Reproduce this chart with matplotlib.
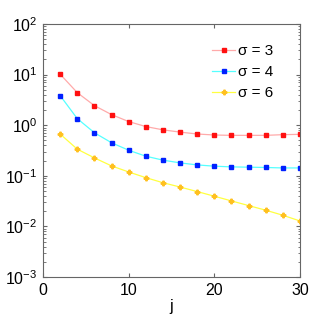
import matplotlib
matplotlib.use("Agg")
import matplotlib.pyplot as plt
from matplotlib.ticker import LogLocator, FixedLocator, NullFormatter

plt.rcParams['font.family'] = ['Liberation Sans', 'DejaVu Sans']
plt.rcParams['mathtext.fontset'] = 'custom'
plt.rcParams['mathtext.rm'] = 'Liberation Sans'
plt.rcParams['mathtext.it'] = 'Liberation Sans'

j = [2, 4, 6, 8, 10, 12, 14, 16, 18, 20, 22, 24, 26, 28, 30]
sigma3 = [10.2, 4.4, 2.44, 1.62, 1.18, 0.94, 0.81, 0.73, 0.67, 0.64, 0.63, 0.63, 0.63, 0.65, 0.66]
sigma4 = [3.85, 1.35, 0.71, 0.45, 0.32, 0.244, 0.204, 0.18, 0.164, 0.155, 0.150, 0.148, 0.146, 0.143, 0.143]
sigma6 = [0.67, 0.336, 0.226, 0.157, 0.119, 0.092, 0.073, 0.060, 0.0488, 0.0395, 0.0319, 0.0258, 0.0209, 0.0166, 0.0128]
labels = ['σ = 3', 'σ = 4', 'σ = 6']

fig = plt.figure(figsize=(3.32, 3.14), dpi=100)
ax = fig.add_axes([43/332, 1 - 277/314, 257/332, 253/314])

ax.plot(j, sigma3, color='#ffaaaa', lw=0.9, marker='s', ms=2.6,
        mfc='#ff1010', mec='#ff1010', label=labels[0])
ax.plot(j, sigma4, color='#55ffff', lw=0.9, marker='s', ms=2.6,
        mfc='#0020ff', mec='#0020ff', label=labels[1])
ax.plot(j, sigma6, color='#ffff40', lw=0.9, marker='P', ms=3.3,
        mfc='#ffc020', mec='#ffc020', label=labels[2])

ax.set_yscale('log')
ax.set_xlim(0, 30)
ax.set_ylim(1e-3, 1e2)
ax.set_xticks([0, 10, 20, 30])
ax.yaxis.set_major_locator(FixedLocator([1e-3, 1e-2, 1e-1, 1, 10, 100]))
ax.yaxis.set_minor_locator(LogLocator(base=10, subs=range(2, 10), numticks=20))
ax.yaxis.set_minor_formatter(NullFormatter())
ax.set_yticklabels([r'$10^{-3}$', r'$10^{-2}$', r'$10^{-1}$', r'$10^{0}$', r'$10^{1}$', r'$10^{2}$'])

for s in ax.spines.values():
    s.set_color('#666666')
    s.set_linewidth(0.8)
ax.tick_params(which='both', direction='in', top=True, right=True, color='#666666',
               labelsize=11.5, labelcolor='black', pad=4)
ax.tick_params(which='major', length=3)
ax.tick_params(which='minor', length=1.8)

ax.set_xlabel('j', fontsize=11.5, labelpad=1)

leg = ax.legend(loc='upper right', frameon=False, fontsize=11, handlelength=1.5,
                handletextpad=0.2, labelspacing=0.45, borderaxespad=0.6,
                bbox_to_anchor=(0.957, 0.98))

fig.savefig('out.png', dpi=100)
